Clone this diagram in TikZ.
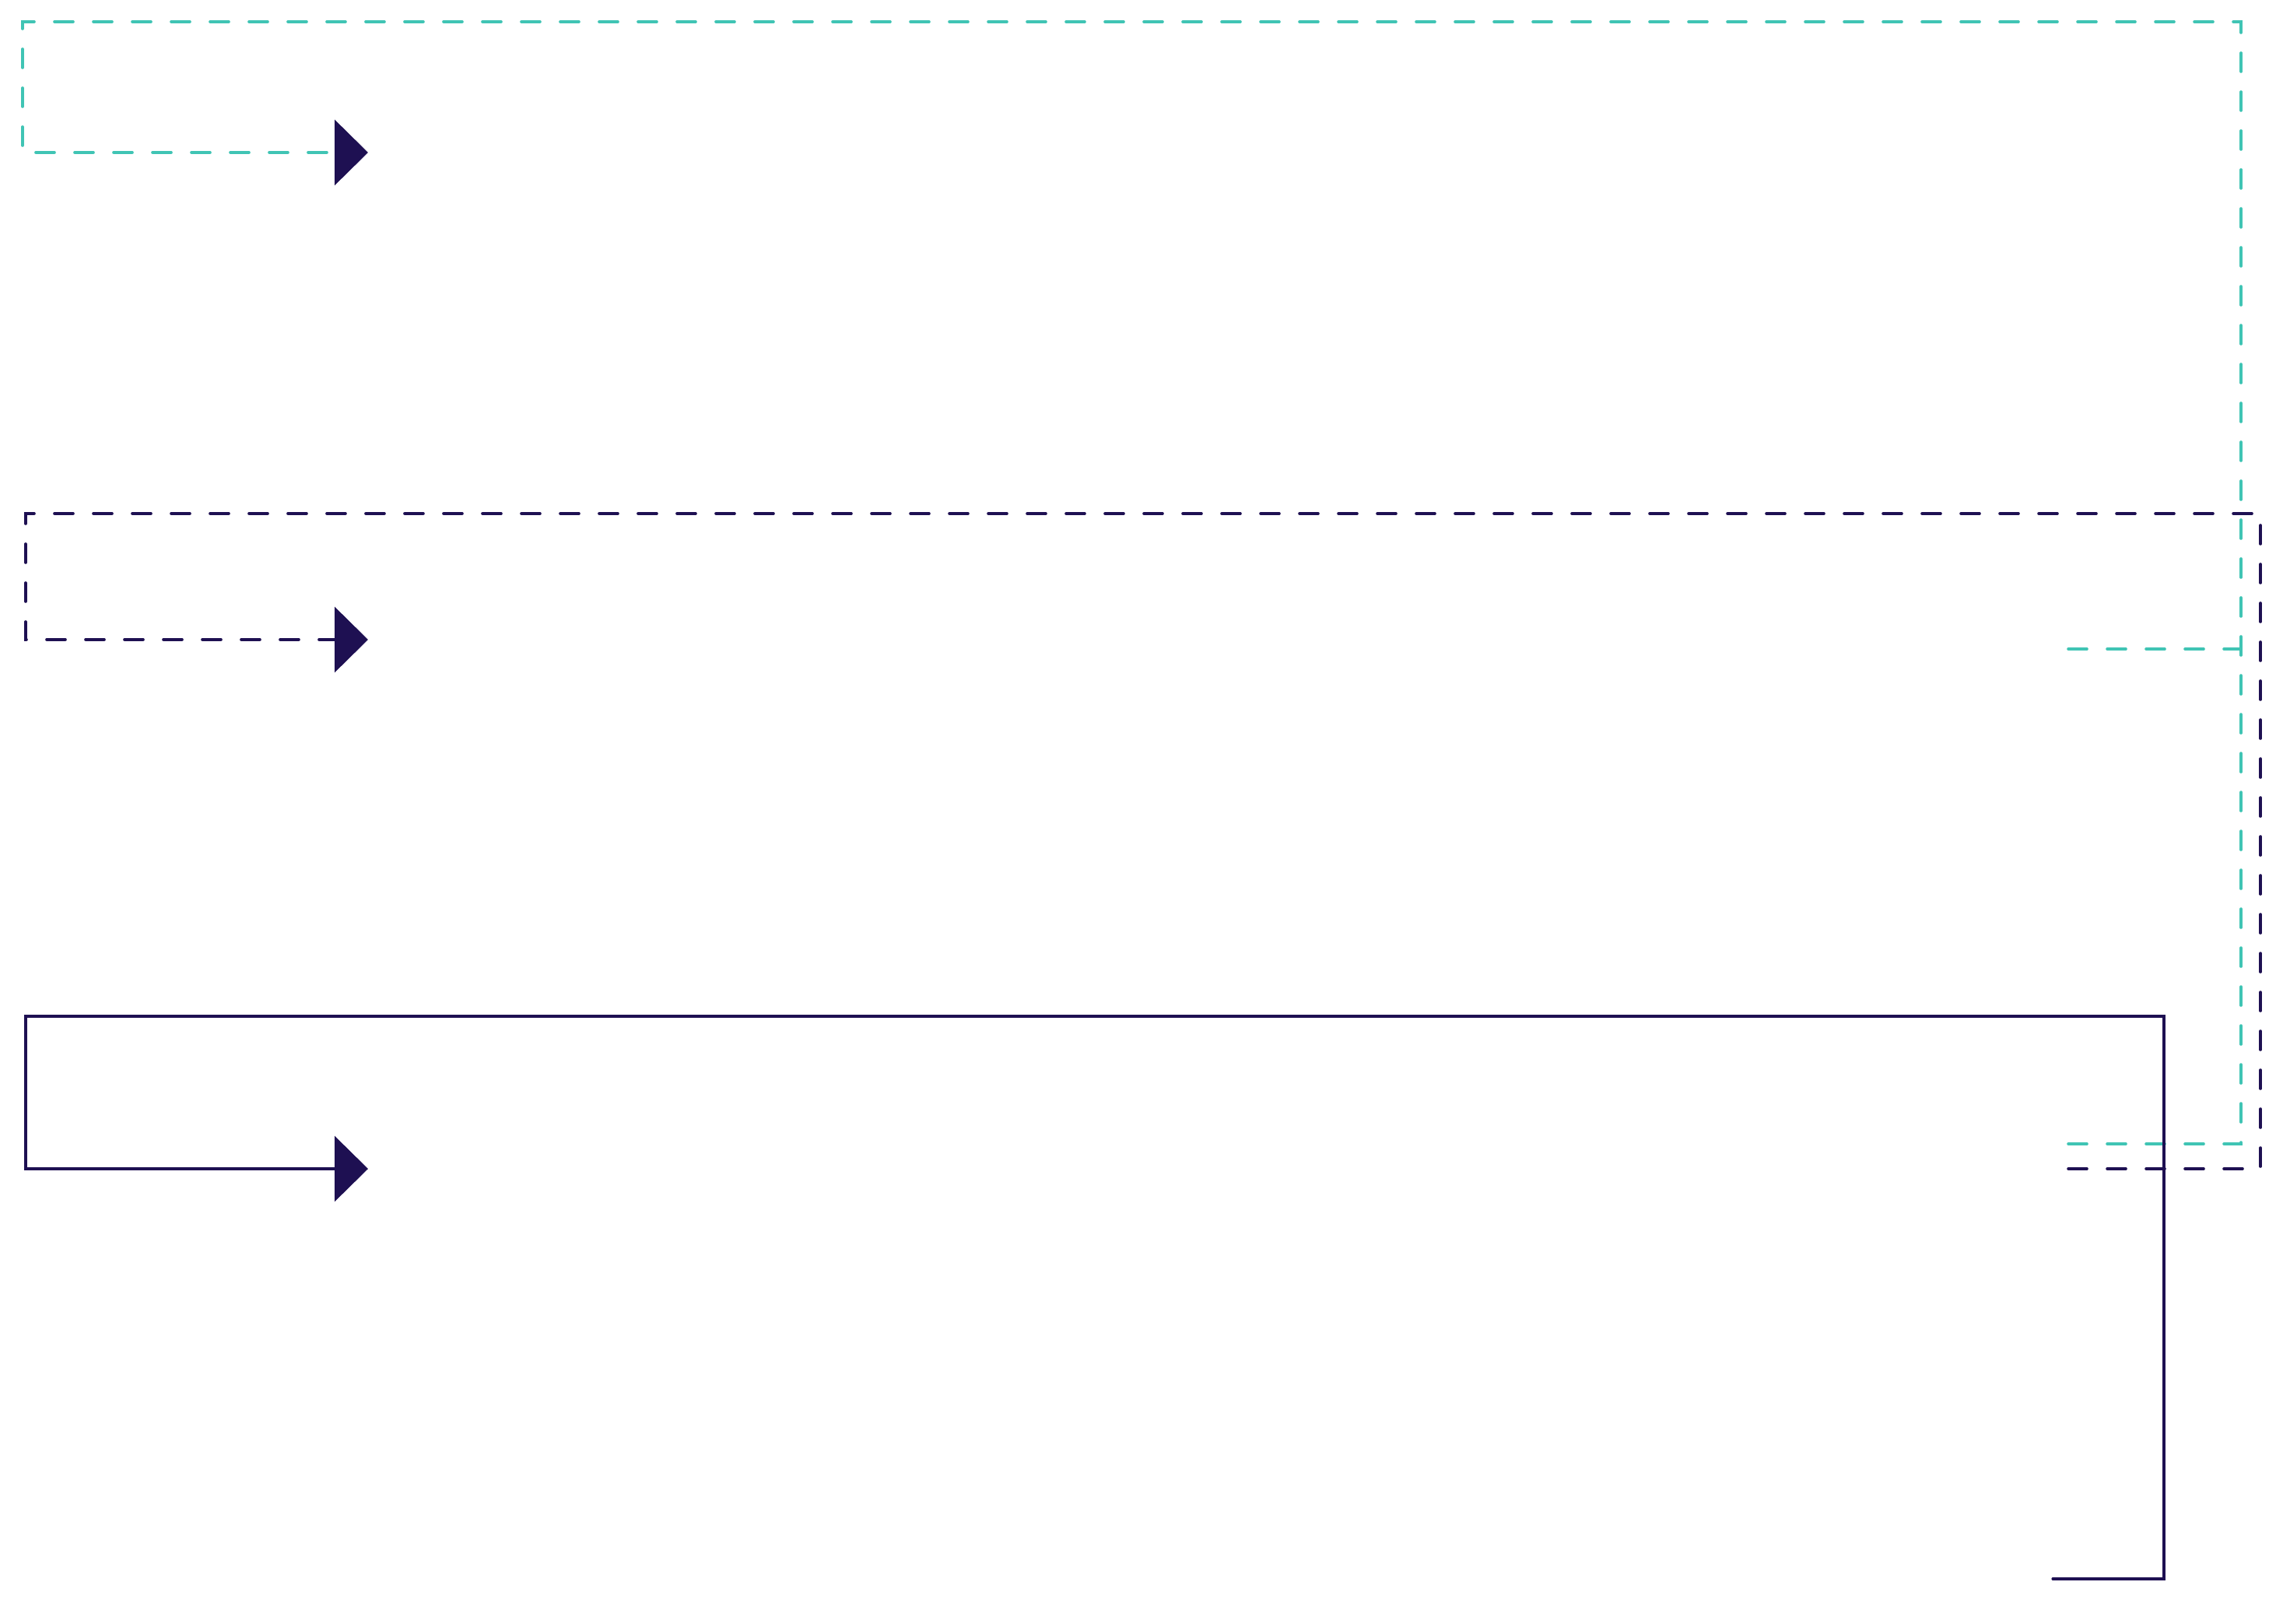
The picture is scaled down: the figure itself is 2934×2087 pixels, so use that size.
\documentclass[tikz,border=0pt]{standalone}
\usetikzlibrary{arrows.meta}
\definecolor{loopteal}{RGB}{64,196,180}
\definecolor{loopnavy}{RGB}{30,16,82}
\begin{document}
\begin{tikzpicture}[x=0.5pt, y=-0.5pt, line cap=round,
	head/.style={-{Triangle[length=21.5pt, width=42pt, color=loopnavy]}},
	tealloop/.style={draw=loopteal, line width=1.8pt, dash pattern=on 12pt off 13pt},
	navyloop/.style={draw=loopnavy, line width=1.8pt, dash pattern=on 12pt off 13pt},
	mainloop/.style={draw=loopnavy, line width=1.6pt}]
	\useasboundingbox (0,0) rectangle (2934,2087);
	\coordinate (in1) at (473,196);
	\coordinate (in2) at (473,822);
	\coordinate (in3) at (473,1502);
	\coordinate (out1) at (2658,834);
	\coordinate (out2) at (2658,1470);
	\coordinate (out3) at (2658,1502);
	\coordinate (out4) at (2638,2029);
	\coordinate (join1) at (2880,834);
	\draw[tealloop, head] (out2) -| (2880,28) -| (29,196) -- (in1);
	\draw[tealloop] (out1) -- (join1);
	\draw[navyloop, head] (out3) -| (2905,660) -| (33,822) -- (in2);
	\draw[mainloop, head] (out4) -| (2781,1306) -| (33,1502) -- (in3);
\end{tikzpicture}
\end{document}
